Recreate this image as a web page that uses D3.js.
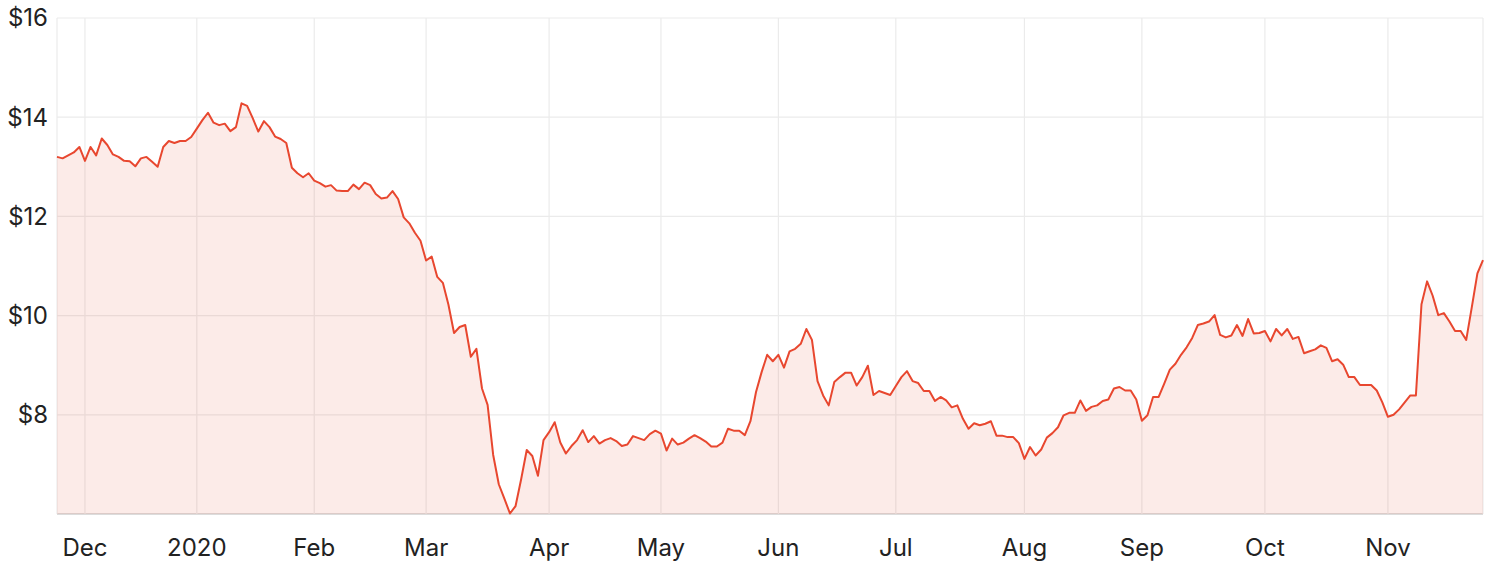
<!DOCTYPE html>
<html>
<head>
<meta charset="utf-8">
<script src="https://cdn.jsdelivr.net/npm/d3@7"></script>
<style>
  body { margin: 0; background: #fff; }
  svg { display: block; }
  .tick-label { font-family: Inter, "Noto Sans", sans-serif; font-size: 24px; fill: #222; }
</style>
</head>
<body>
<div id="chart"></div>
<script>
// trading days: Nov 25 2019 .. Nov 25 2020 (weekdays, minus exchange holidays)
const firstDay = "2019-11-25";
const lastDay = "2020-11-25";
const holidays = ["2019-12-25", "2019-12-26", "2020-01-01", "2020-01-27",
                  "2020-04-10", "2020-04-13", "2020-06-08"];

// closing price, one per trading day
const prices = [
  13.20, 13.17, 13.23, 13.29, 13.40, 13.12, 13.40, 13.23, 13.57, 13.44,
  13.25, 13.20, 13.12, 13.11, 13.01, 13.17, 13.20, 13.10, 13.00, 13.40,
  13.52, 13.48, 13.52, 13.52, 13.60, 13.77, 13.94, 14.09, 13.89, 13.84,
  13.87, 13.72, 13.80, 14.28, 14.23, 13.98, 13.71, 13.92, 13.80, 13.61,
  13.56, 13.48, 12.98, 12.87, 12.79, 12.87, 12.72, 12.67, 12.60, 12.63,
  12.52, 12.51, 12.51, 12.64, 12.55, 12.68, 12.63, 12.45, 12.36, 12.38,
  12.51, 12.35, 11.98, 11.86, 11.67, 11.51, 11.11, 11.19, 10.78, 10.66,
  10.22, 9.65, 9.77, 9.81, 9.17, 9.33, 8.53, 8.20, 7.19, 6.60,
  6.31, 6.01, 6.16, 6.70, 7.29, 7.17, 6.77, 7.49, 7.65, 7.85,
  7.44, 7.22, 7.37, 7.49, 7.69, 7.45, 7.57, 7.42, 7.49, 7.53,
  7.47, 7.37, 7.40, 7.57, 7.53, 7.49, 7.61, 7.68, 7.62, 7.28,
  7.52, 7.40, 7.44, 7.52, 7.59, 7.53, 7.46, 7.36, 7.36, 7.44,
  7.72, 7.68, 7.68, 7.59, 7.87, 8.46, 8.86, 9.21, 9.08, 9.21,
  8.95, 9.28, 9.33, 9.43, 9.73, 9.51, 8.68, 8.39, 8.19, 8.66,
  8.76, 8.85, 8.85, 8.59, 8.76, 8.99, 8.40, 8.48, 8.44, 8.40,
  8.58, 8.76, 8.88, 8.68, 8.64, 8.48, 8.48, 8.28, 8.36, 8.29,
  8.15, 8.19, 7.92, 7.72, 7.83, 7.79, 7.82, 7.87, 7.58, 7.58,
  7.55, 7.55, 7.43, 7.11, 7.35, 7.18, 7.30, 7.54, 7.63, 7.75,
  7.99, 8.04, 8.04, 8.29, 8.08, 8.16, 8.19, 8.28, 8.31, 8.53,
  8.56, 8.49, 8.49, 8.31, 7.88, 7.99, 8.36, 8.36, 8.63, 8.91,
  9.03, 9.21, 9.36, 9.55, 9.81, 9.84, 9.88, 10.01, 9.61, 9.56,
  9.60, 9.81, 9.59, 9.93, 9.64, 9.65, 9.69, 9.48, 9.73, 9.60,
  9.73, 9.53, 9.57, 9.24, 9.28, 9.32, 9.40, 9.35, 9.08, 9.12,
  9.01, 8.76, 8.76, 8.60, 8.60, 8.60, 8.49, 8.25, 7.96, 8.00,
  8.11, 8.25, 8.39, 8.39, 10.23, 10.69, 10.40, 10.01, 10.05, 9.88,
  9.69, 9.69, 9.51, 10.17, 10.85, 11.12
];

const yTicks = [6, 8, 10, 12, 14, 16];

const width = 1490, height = 568;
const margin = { top: 18, right: 7, bottom: 54, left: 57 };

const parse = d3.utcParse("%Y-%m-%d");
const fmt = d3.utcFormat("%Y-%m-%d");
const skip = new Set(holidays);
const days = d3.utcDays(parse(firstDay), d3.utcDay.offset(parse(lastDay), 1))
  .filter(d => d.getUTCDay() % 6 !== 0 && !skip.has(fmt(d)));

const data = prices.map((p, i) => ({ i, date: days[i], price: p }));

// first trading day of each month gets a tick
const monthTicks = data.filter((d, k) =>
  k > 0 && d.date.getUTCMonth() !== data[k - 1].date.getUTCMonth());

const x = d3.scaleLinear()
  .domain([0, data.length - 1])
  .range([margin.left, width - margin.right]);

const y = d3.scaleLinear()
  .domain([6, 16])
  .range([height - margin.bottom, margin.top]);

const svg = d3.select("#chart").append("svg")
  .attr("width", width)
  .attr("height", height);

// grid
svg.append("g")
  .selectAll("line.h")
  .data(yTicks).enter()
  .append("line")
  .attr("x1", margin.left)
  .attr("x2", width - margin.right)
  .attr("y1", d => y(d))
  .attr("y2", d => y(d))
  .attr("stroke", d => d === 6 ? "#dcdcdc" : "#ebebeb")
  .attr("stroke-width", d => d === 6 ? 2 : 1.2);

svg.append("g")
  .selectAll("line.v")
  .data([0, ...monthTicks.map(d => d.i), data.length - 1]).enter()
  .append("line")
  .attr("x1", d => x(d))
  .attr("x2", d => x(d))
  .attr("y1", y(16))
  .attr("y2", y(6))
  .attr("stroke", "#ebebeb")
  .attr("stroke-width", 1.2);

// area + line
const red = "#e8472f";

svg.append("path")
  .datum(data)
  .attr("fill", red)
  .attr("fill-opacity", 0.11)
  .attr("d", d3.area()
    .x(d => x(d.i))
    .y0(y(6))
    .y1(d => y(d.price)));

svg.append("path")
  .datum(data)
  .attr("fill", "none")
  .attr("stroke", red)
  .attr("stroke-width", 2)
  .attr("stroke-linejoin", "round")
  .attr("d", d3.line()
    .x(d => x(d.i))
    .y(d => y(d.price)));

// labels
svg.append("g")
  .selectAll("text")
  .data(yTicks.filter(d => d > 6)).enter()
  .append("text")
  .attr("class", "tick-label")
  .attr("x", 48)
  .attr("y", d => y(d))
  .attr("dy", "0.35em")
  .attr("text-anchor", "end")
  .text(d => "$" + d);

const monthName = d3.utcFormat("%b");
svg.append("g")
  .selectAll("text")
  .data(monthTicks).enter()
  .append("text")
  .attr("class", "tick-label")
  .attr("x", d => x(d.i))
  .attr("y", 556)
  .attr("text-anchor", "middle")
  .text(d => d.date.getUTCMonth() === 0 ? d.date.getUTCFullYear() : monthName(d.date));
</script>
</body>
</html>
